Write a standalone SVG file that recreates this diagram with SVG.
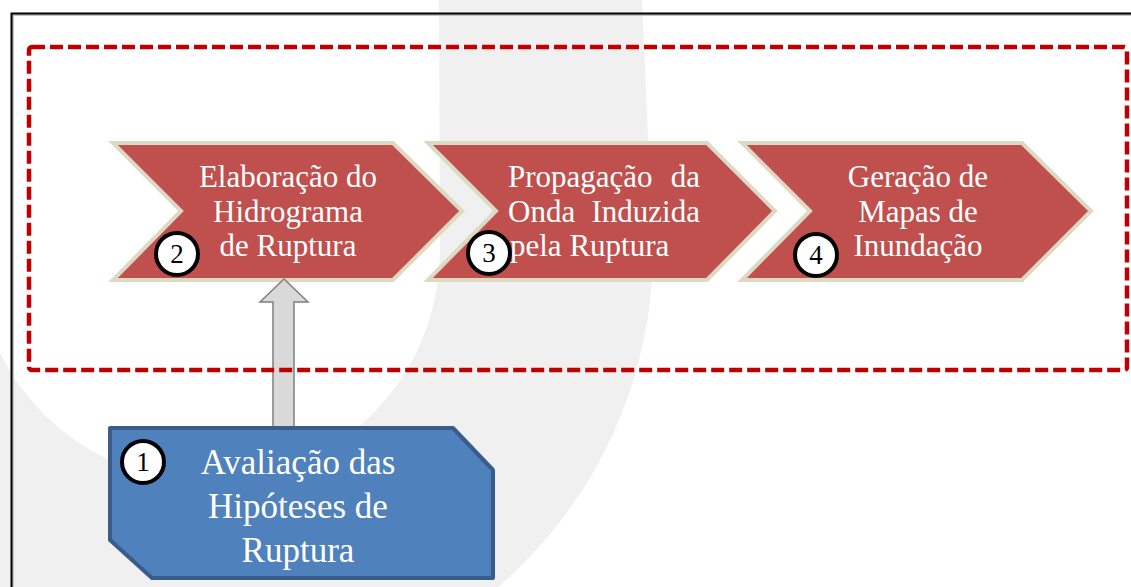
<svg xmlns="http://www.w3.org/2000/svg" width="1131" height="587" viewBox="0 0 1131 587">
<style>
.chev{fill:#c0504d;stroke:#ddd9c3;stroke-width:4;stroke-linejoin:miter}
.ct{font-family:"Liberation Serif","Times New Roman",serif;font-size:31px;fill:#ffffff}
.bt{font-family:"Liberation Serif","Times New Roman",serif;font-size:35px;fill:#ffffff;text-anchor:middle}
.num{fill:#ffffff;stroke:#000000;stroke-width:4}
.nt{font-family:"Liberation Serif","Times New Roman",serif;font-size:27px;fill:#000000;text-anchor:middle}
</style>
<rect x="0" y="0" width="1131" height="587" fill="#ffffff"/>
<path d="M439,0 L642,0 L653,250 A445,445 0 0 1 498,587 L0,587 L0,353 A232,232 0 0 0 440,250 Z" fill="#f0f0f0"/>
<g id="frame">
<path d="M13,587 L13,15 L1131,15" fill="none" stroke="#b0b0b0" stroke-width="1.5"/>
<path d="M11.5,587 L11.5,13.5 L1131,13.5" fill="none" stroke="#000000" stroke-width="2"/>
</g>
<g id="node2">
<polygon class="chev" points="113,143 393,143 462,211 393,280 113,280 181,211"/>
<circle class="num" cx="177" cy="254" r="21"/>
<text class="nt" x="177" y="263">2</text>
<text class="ct" text-anchor="middle"><tspan x="288" y="187">Elaboração do</tspan><tspan x="288" y="222">Hidrograma</tspan><tspan x="288" y="256">de Ruptura</tspan></text>
</g>
<g id="node3">
<polygon class="chev" points="428,143 707,143 775,211 707,280 428,280 496,211"/>
<circle class="num" cx="489" cy="253" r="21"/>
<text class="nt" x="489" y="262">3</text>
<text class="ct"><tspan x="508" y="187">Propagação</tspan><tspan x="700" y="187" text-anchor="end">da</tspan><tspan x="508" y="222">Onda</tspan><tspan x="700" y="222" text-anchor="end">Induzida</tspan><tspan x="510" y="256">pela Ruptura</tspan></text>
</g>
<g id="node4">
<polygon class="chev" points="742,143 1022,143 1091,211 1022,280 742,280 810,211"/>
<circle class="num" cx="816" cy="255" r="21"/>
<text class="nt" x="816" y="264">4</text>
<text class="ct" text-anchor="middle"><tspan x="918" y="187">Geração de</tspan><tspan x="918" y="222">Mapas de</tspan><tspan x="918" y="256">Inundação</tspan></text>
</g>
<g id="connectors">
<path d="M284,279 L308,302 L294,302 L294,430 L273,430 L273,302 L260,302 Z" fill="#d9d9d9" stroke="#7f7f7f" stroke-width="1.5" stroke-linejoin="miter"/>
</g>
<g id="group-box">
<rect x="29" y="47" width="1098" height="323" rx="3" fill="none" stroke="#c00000" stroke-width="4.5" stroke-dasharray="13 5"/>
</g>
<g id="node1">
<polygon points="110,428 453,428 493,470 493,578 152,578 110,540" fill="#4f81bd" stroke="#385d8a" stroke-width="4" stroke-linejoin="round"/>
<circle class="num" cx="143" cy="462" r="21"/>
<text class="nt" x="143" y="471">1</text>
<text class="bt"><tspan x="298" y="474">Avaliação das</tspan><tspan x="298" y="518">Hipóteses de</tspan><tspan x="298" y="562">Ruptura</tspan></text>
</g>
</svg>
